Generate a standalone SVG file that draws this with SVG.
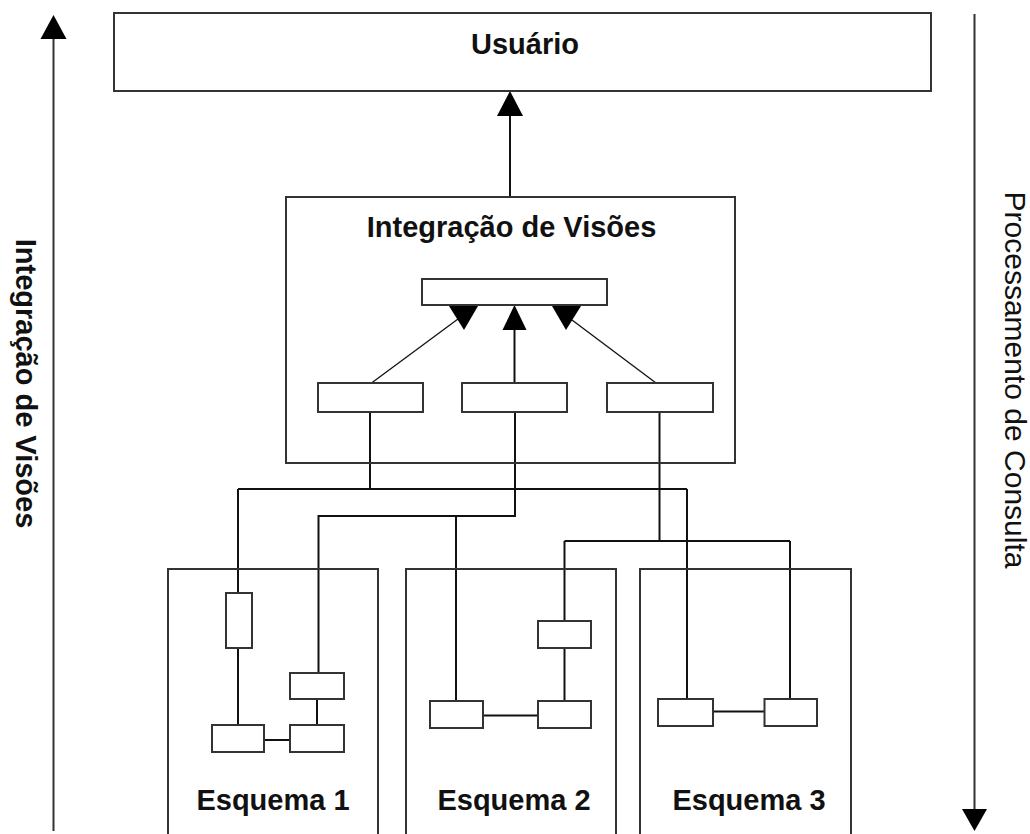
<svg xmlns="http://www.w3.org/2000/svg" width="1030" height="834" viewBox="0 0 1030 834">
  <style>
    .box { fill: #ffffff; stroke: #333333; stroke-width: 2; }
    .frame { fill: none; stroke: #333333; stroke-width: 2; }
    .wire { fill: none; stroke: #111111; stroke-width: 2; }
    .thin { fill: none; stroke: #111111; stroke-width: 1.3; }
    .head { fill: #000000; stroke: none; }
    .title { font-family: "Liberation Sans", Arial, sans-serif; font-size: 29px; font-weight: bold; fill: #111111; text-anchor: middle; }
    .side { font-family: "Liberation Sans", Arial, sans-serif; font-size: 30px; fill: #111111; text-anchor: middle; }
  </style>

  <rect width="1030" height="834" fill="#ffffff"/>

  <!-- direction axes at both sides -->
  <g id="axis-integracao">
    <line class="frame" x1="53.5" y1="38" x2="53.5" y2="831"/>
    <polygon class="head" points="53.5,15 40.5,39 66.5,39"/>
    <text class="title" transform="translate(16,383.5) rotate(90)">Integração de Visões</text>
  </g>
  <g id="axis-consulta">
    <line class="frame" x1="974.5" y1="14" x2="974.5" y2="810"/>
    <polygon class="head" points="962,809 987,809 974.5,831"/>
    <text class="side" transform="translate(1005,380) rotate(90)">Processamento de Consulta</text>
  </g>

  <!-- connectors -->
  <g id="connectors">
    <!-- integration to user -->
    <line class="wire" x1="510" y1="197" x2="510" y2="115"/>
    <polygon class="head" points="510,91 497,116 523,116"/>

    <!-- inside the integration box -->
    <line class="wire" x1="514.5" y1="383" x2="514.5" y2="329"/>
    <polygon class="head" points="514.5,305 502.5,330 526.5,330"/>
    <line class="thin" x1="371.5" y1="383" x2="458" y2="319"/>
    <polygon class="head" points="449,306 478,306 464,330"/>
    <line class="thin" x1="656" y1="383" x2="572" y2="320"/>
    <polygon class="head" points="552,306 581,306 566,330"/>

    <!-- from the left view -->
    <polyline class="wire" points="370,412 370,489"/>
    <line class="wire" x1="238" y1="489" x2="687" y2="489"/>
    <line class="wire" x1="238" y1="489" x2="238" y2="593"/>
    <line class="wire" x1="238" y1="648" x2="238" y2="725"/>
    <line class="wire" x1="687" y1="489" x2="687" y2="699"/>

    <!-- from the middle view -->
    <polyline class="wire" points="515,412 515,516 318.5,516 318.5,673"/>
    <line class="wire" x1="456" y1="516" x2="456" y2="701"/>
    <line class="wire" x1="317" y1="699" x2="317" y2="725"/>

    <!-- from the right view -->
    <polyline class="wire" points="659.5,412 659.5,541"/>
    <line class="wire" x1="564.5" y1="541" x2="790" y2="541"/>
    <line class="wire" x1="564.5" y1="541" x2="564.5" y2="621"/>
    <line class="wire" x1="564.5" y1="648" x2="564.5" y2="701"/>
    <line class="wire" x1="790" y1="541" x2="790" y2="699"/>

    <!-- links inside the schemas -->
    <line class="wire" x1="264" y1="740" x2="290" y2="740"/>
    <line class="wire" x1="483" y1="715.5" x2="538" y2="715.5"/>
    <line class="wire" x1="713" y1="711.5" x2="764.5" y2="711.5"/>
  </g>

  <g id="usuario">
    <rect class="box" x="114" y="13" width="817" height="78"/>
    <text class="title" x="525" y="54">Usuário</text>
  </g>

  <g id="integracao-visoes">
    <rect class="frame" x="286" y="197" width="449" height="266"/>
    <text class="title" x="511.5" y="237">Integração de Visões</text>
    <rect class="box" x="422" y="279" width="185" height="26"/>
    <rect class="box" x="318" y="383" width="105" height="29"/>
    <rect class="box" x="462" y="383" width="105" height="29"/>
    <rect class="box" x="607" y="383" width="106" height="29"/>
  </g>

  <g id="esquema-1">
    <path class="frame" d="M168,840 V569 H378 V840"/>
    <rect class="box" x="226" y="593" width="26" height="55"/>
    <rect class="box" x="290" y="673" width="54" height="26"/>
    <rect class="box" x="212" y="725" width="52" height="27"/>
    <rect class="box" x="290" y="725" width="54" height="27"/>
    <text class="title" x="273" y="810">Esquema 1</text>
  </g>

  <g id="esquema-2">
    <path class="frame" d="M406,840 V569 H616 V840"/>
    <rect class="box" x="538" y="621" width="53" height="27"/>
    <rect class="box" x="430" y="701" width="53" height="27"/>
    <rect class="box" x="538" y="701" width="53" height="27"/>
    <text class="title" x="514" y="810">Esquema 2</text>
  </g>

  <g id="esquema-3">
    <path class="frame" d="M640,840 V569 H851 V840"/>
    <rect class="box" x="658" y="699" width="55" height="27"/>
    <rect class="box" x="764.5" y="699" width="52.5" height="27"/>
    <text class="title" x="749" y="810">Esquema 3</text>
  </g>
</svg>
